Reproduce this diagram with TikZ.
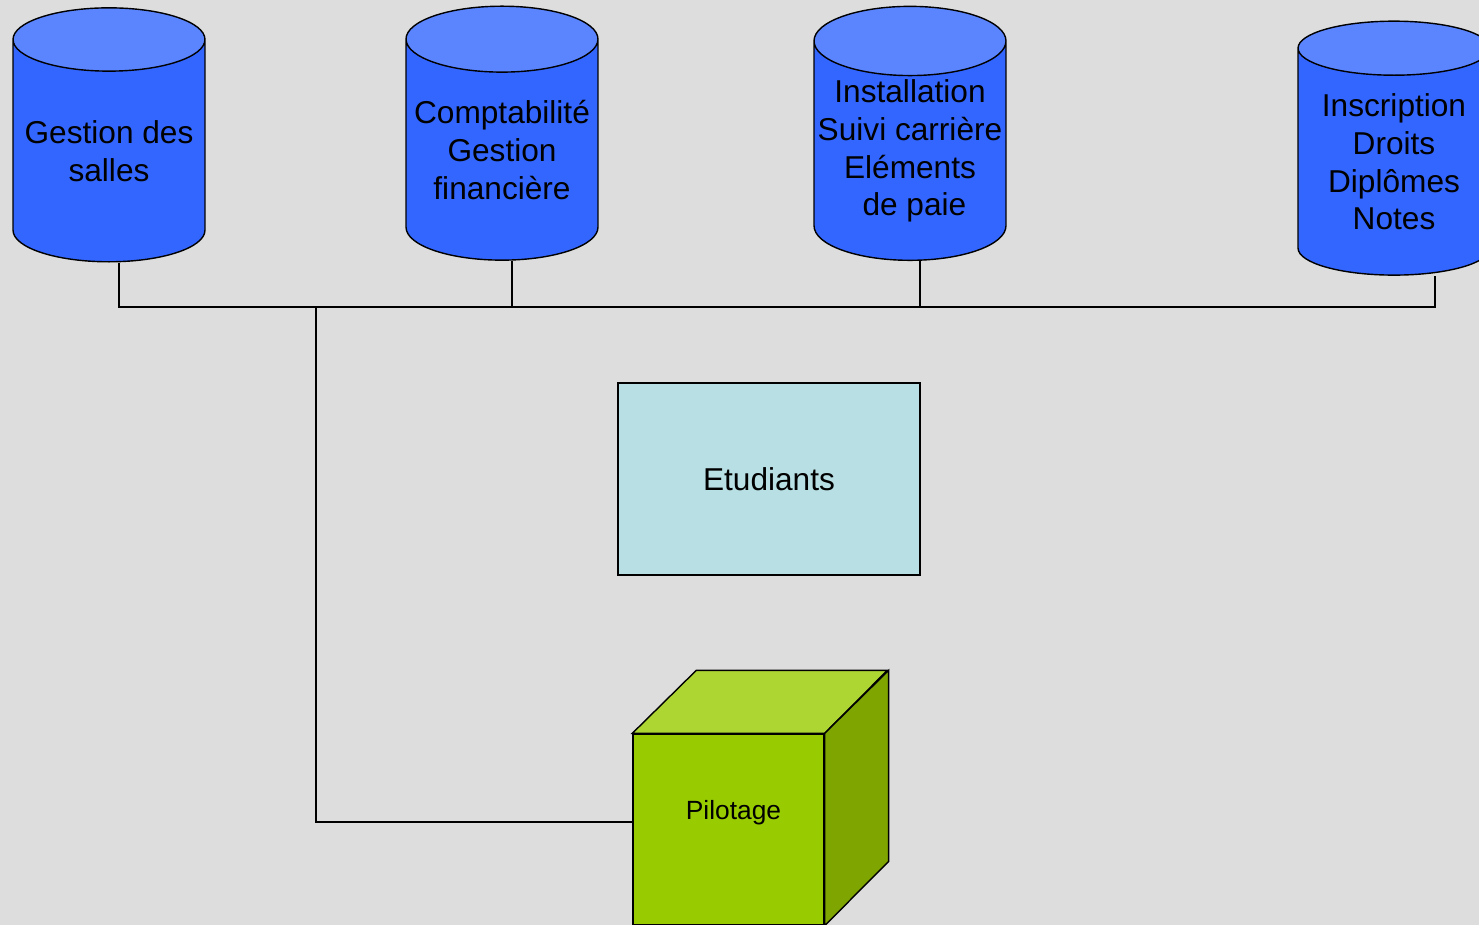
\documentclass[tikz,border=0pt]{standalone}
\usepackage{fontspec}
\setmainfont{Liberation Sans}
\usetikzlibrary{shapes.geometric}
\definecolor{bgGray}{HTML}{DDDDDD}
\definecolor{dbBody}{HTML}{3366FF}
\definecolor{dbTop}{HTML}{5B85FF}
\definecolor{boxCyan}{HTML}{B8E0E4}
\definecolor{cubeFront}{HTML}{99CC00}
\definecolor{cubeTop}{HTML}{ADD633}
\definecolor{cubeSide}{HTML}{7FA600}

\begin{document}
\begin{tikzpicture}[x=0.02cm,y=-0.02cm,line width=0.8pt,
  db/.style={draw,cylinder,shape border rotate=90,aspect=0.375,
    cylinder uses custom fill,cylinder body fill=dbBody,cylinder end fill=dbTop,
    minimum width=3.84cm,minimum height=5.08cm,inner sep=0pt,align=center,
    font=\fontsize{18}{21.5}\selectfont},
  bigbox/.style={draw,fill=boxCyan,minimum width=6.04cm,minimum height=3.84cm,
    font=\fontsize{18}{21.5}\selectfont},
  cubeface/.style={draw,fill=cubeFront,minimum size=3.82cm,inner sep=0pt}]
\useasboundingbox (0,0) rectangle (1479,925);
\clip (0,0) rectangle (1479,925);
\fill[bgGray] (0,0) rectangle (1479,925);

\node[db] (salles) at (109,151) {Gestion des\\salles};
\node[db] (compta) at (502,150) {Comptabilité\\Gestion\\financière};
\node[db] (rh) at (910,151) {Installation\\Suivi carrière\\Eléments\\\ de paie};
\node[db] (scol) at (1394,162) {Inscription\\Droits\\Diplômes\\Notes};

\node[bigbox] (etud) at (769,479) {Etudiants};

\node[cubeface,label={[xshift=0.1cm,yshift=0.33cm,font=\fontsize{15}{18}\selectfont]center:Pilotage}] (pilot) at (728.5,829.5) {};
\draw[fill=cubeTop] (pilot.north west) -- ++(64,-63) -- ++(191,0) -- (pilot.north east) -- cycle;
\draw[fill=cubeSide] (pilot.north east) -- ++(64,-63) -- ++(0,191) -- (pilot.south east) -- cycle;

% bus
\coordinate (bus) at (316,307);
\draw ([xshift=0.2cm]salles.south) |- (bus) -| ([xshift=0.2cm]compta.south);
\draw (bus) -| ([xshift=0.2cm]rh.south);
\draw (bus) -| ([xshift=0.82cm]scol.south);
\draw (bus) |- ([yshift=0.15cm]pilot.west);
\end{tikzpicture}
\end{document}
